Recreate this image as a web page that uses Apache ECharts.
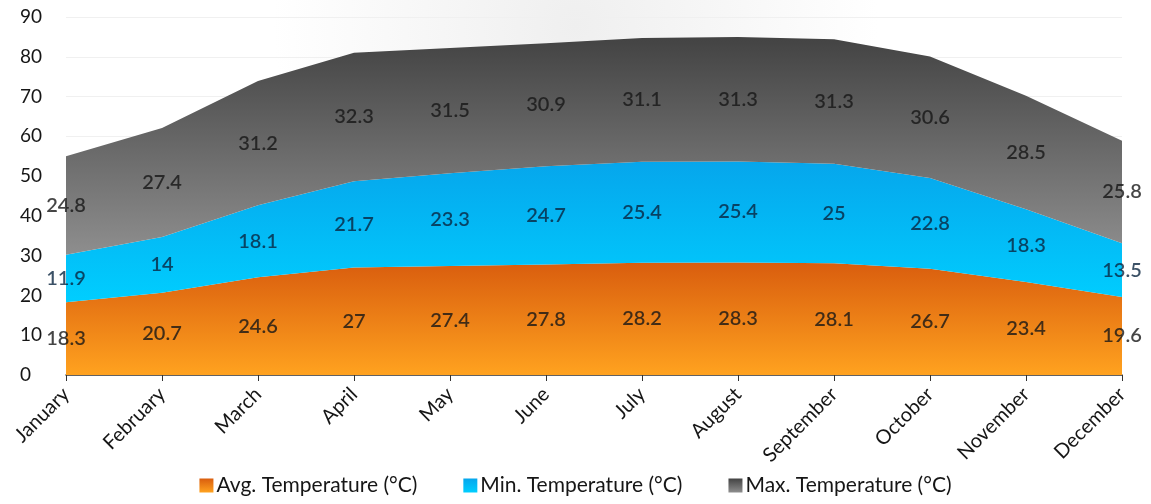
<!DOCTYPE html>
<html>
<head>
<meta charset="utf-8">
<script src="https://cdn.jsdelivr.net/npm/echarts@6/dist/echarts.min.js"></script>
<style>
  html, body { margin: 0; padding: 0; background: #fff; }
  #chart { width: 1151px; height: 504px; }
</style>
</head>
<body>
<div id="chart"></div>
<script>
const months = ['January', 'February', 'March', 'April', 'May', 'June', 'July', 'August', 'September', 'October', 'November', 'December']
const avgTemp = [18.3, 20.7, 24.6, 27, 27.4, 27.8, 28.2, 28.3, 28.1, 26.7, 23.4, 19.6]
const minTemp = [11.9, 14, 18.1, 21.7, 23.3, 24.7, 25.4, 25.4, 25, 22.8, 18.3, 13.5]
const maxTemp = [24.8, 27.4, 31.2, 32.3, 31.5, 30.9, 31.1, 31.3, 31.3, 30.6, 28.5, 25.8]
const yTicks = [0, 10, 20, 30, 40, 50, 60, 70, 80, 90]

const FONT = 'Lato, "Open Sans", sans-serif'
const chart = echarts.init(document.getElementById('chart'))

const grad = (top, bottom) =>
  new echarts.graphic.LinearGradient(0, 0, 0, 1, [
    { offset: 0, color: top },
    { offset: 1, color: bottom },
  ])

const layers = [
  { name: 'Avg. Temperature (°C)', values: avgTemp, color: grad('#d95d0e', '#ffa21f'), text: '#161616' },
  { name: 'Min. Temperature (°C)', values: minTemp, color: grad('#06a6ec', '#00ceff'), text: '#0a2540' },
  { name: 'Max. Temperature (°C)', values: maxTemp, color: grad('#434343', '#8e8e8e'), text: '#161616' },
]

// label positions sit in the middle of each stacked band
const base = months.map(() => 0)
const labelSeries = layers.map((l) => {
  const pts = l.values.map((v, i) => {
    const p = [i, base[i] + v / 2, v]
    base[i] += v
    return p
  })
  return {
    type: 'scatter',
    symbolSize: 0,
    silent: true,
    z: 5,
    data: pts,
    label: {
      show: true,
      position: 'inside',
      formatter: (p) => String(p.data[2]),
      color: l.text,
      fontFamily: FONT,
      fontWeight: 600,
      fontSize: 20,
    },
  }
})

const option = {
  backgroundColor: new echarts.graphic.RadialGradient(0.5, 0.05, 0.6, [
    { offset: 0, color: '#efefef' },
    { offset: 1, color: '#ffffff' },
  ]),
  animation: false,
  grid: { left: 66, right: 29, top: 17, bottom: 129 },
  legend: {
    bottom: 3,
    left: 'center',
    itemWidth: 14,
    itemHeight: 14,
    itemGap: 46,
    icon: 'rect',
    data: layers.map((l) => l.name),
    textStyle: { fontFamily: FONT, fontSize: 21, color: '#161616', padding: [0, 0, 0, -2] },
  },
  xAxis: {
    type: 'category',
    data: months,
    boundaryGap: false,
    axisLine: { lineStyle: { color: '#333', width: 1.5 } },
    axisTick: { alignWithLabel: true, length: 6, lineStyle: { color: '#333' } },
    axisLabel: { rotate: 45, interval: 0, fontFamily: FONT, fontSize: 20, color: '#161616', margin: 16 },
  },
  yAxis: {
    type: 'value',
    min: yTicks[0],
    max: yTicks[yTicks.length - 1],
    interval: 10,
    axisLine: { show: false },
    axisTick: { show: false },
    axisLabel: { fontFamily: FONT, fontSize: 19, color: '#161616', margin: 46, align: 'left' },
    splitLine: { lineStyle: { color: '#f0f0f0' } },
  },
  series: [
    ...layers.map((l) => ({
      type: 'line',
      name: l.name,
      stack: 'temp',
      data: l.values,
      symbol: 'none',
      lineStyle: { width: 0 },
      itemStyle: { color: l.color },
      areaStyle: { color: l.color, opacity: 1 },
    })),
    ...labelSeries,
  ],
}

chart.setOption(option)
</script>
</body>
</html>
